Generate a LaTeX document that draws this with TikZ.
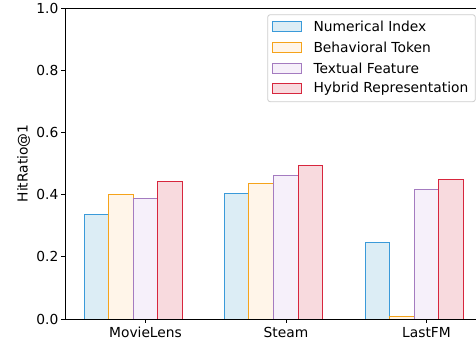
\documentclass[tikz,border=0pt]{standalone}
\usepackage{fontspec}
\setmainfont{DejaVu Sans}
\begin{document}
\begin{tikzpicture}[x=1pt,y=1pt,
  lbl/.style={font=\fontsize{13.8}{16}\selectfont, inner sep=0pt},
  spine/.style={line width=0.9pt, black},
  tck/.style={line width=0.9pt, black},
  nibar/.style={draw=niE, fill=niF, line width=1pt},
  btbar/.style={draw=btE, fill=btF, line width=1pt},
  tfbar/.style={draw=tfE, fill=tfF, line width=1pt},
  hrbar/.style={draw=hrE, fill=hrF, line width=1pt},
]
\definecolor{niE}{HTML}{3A9AD9}\definecolor{niF}{HTML}{DCEDF5}
\definecolor{btE}{HTML}{F5A31A}\definecolor{btF}{HTML}{FFF5E9}
\definecolor{tfE}{HTML}{A47BC0}\definecolor{tfF}{HTML}{F6F0FA}
\definecolor{hrE}{HTML}{D7263D}\definecolor{hrF}{HTML}{F8DADE}
\useasboundingbox (0,0) rectangle (476,341);
\def\ybase{22}\def\yscl{311}\def\bw{24.6}
% bars
\foreach \g/\a/\b/\c/\d in {84/0.337/0.400/0.388/0.441, 224.3/0.404/0.436/0.463/0.494, 365/0.245/0.009/0.417/0.450}{
  \draw[nibar] (\g,\ybase) rectangle ({\g+\bw},{\ybase+\yscl*\a});
  \draw[btbar] ({\g+\bw},\ybase) rectangle ({\g+2*\bw},{\ybase+\yscl*\b});
  \draw[tfbar] ({\g+2*\bw},\ybase) rectangle ({\g+3*\bw},{\ybase+\yscl*\c});
  \draw[hrbar] ({\g+3*\bw},\ybase) rectangle ({\g+4*\bw},{\ybase+\yscl*\d});
}
% spines
\draw[spine] (476,333) -- (65,333) -- (65,22) -- (476,22);
% y ticks
\foreach \v/\t in {0/0.0,0.2/0.2,0.4/0.4,0.6/0.6,0.8/0.8,1/1.0}{
  \draw[tck] (61,{\ybase+\yscl*\v}) -- (65,{\ybase+\yscl*\v});
  \node[lbl, anchor=east] (yt\t) at (58.5,{\ybase+\yscl*\v}) {\t};
}
% x ticks
\foreach \x/\n [count=\i] in {145.5/MovieLens, 286/Steam, 426.5/LastFM}{
  \draw[tck] (\x,22) -- (\x,18);
  \node[lbl, anchor=base] (xt\i) at (\x,3.8) {\n};
}
\node[lbl, rotate=90] (ylab) at (23.5,177.5) {HitRatio@1};
% legend
\node[draw=black!20, fill=white, rounded corners=2.5pt, line width=0.8pt, minimum width=207.6pt, minimum height=87pt, inner sep=0pt] (leg) at (371.5,282.8) {};
\foreach \y/\s/\t [count=\i] in {314.3/nibar/Numerical Index, 293.3/btbar/Behavioral Token, 272.7/tfbar/Textual Feature, 252.3/hrbar/Hybrid Representation}{
  \draw[\s] (272.7,{\y-5}) rectangle (301.7,{\y+5});
  \node[lbl, anchor=west] (leg\i) at (313.3,\y) {\t};
}
\end{tikzpicture}
\end{document}
